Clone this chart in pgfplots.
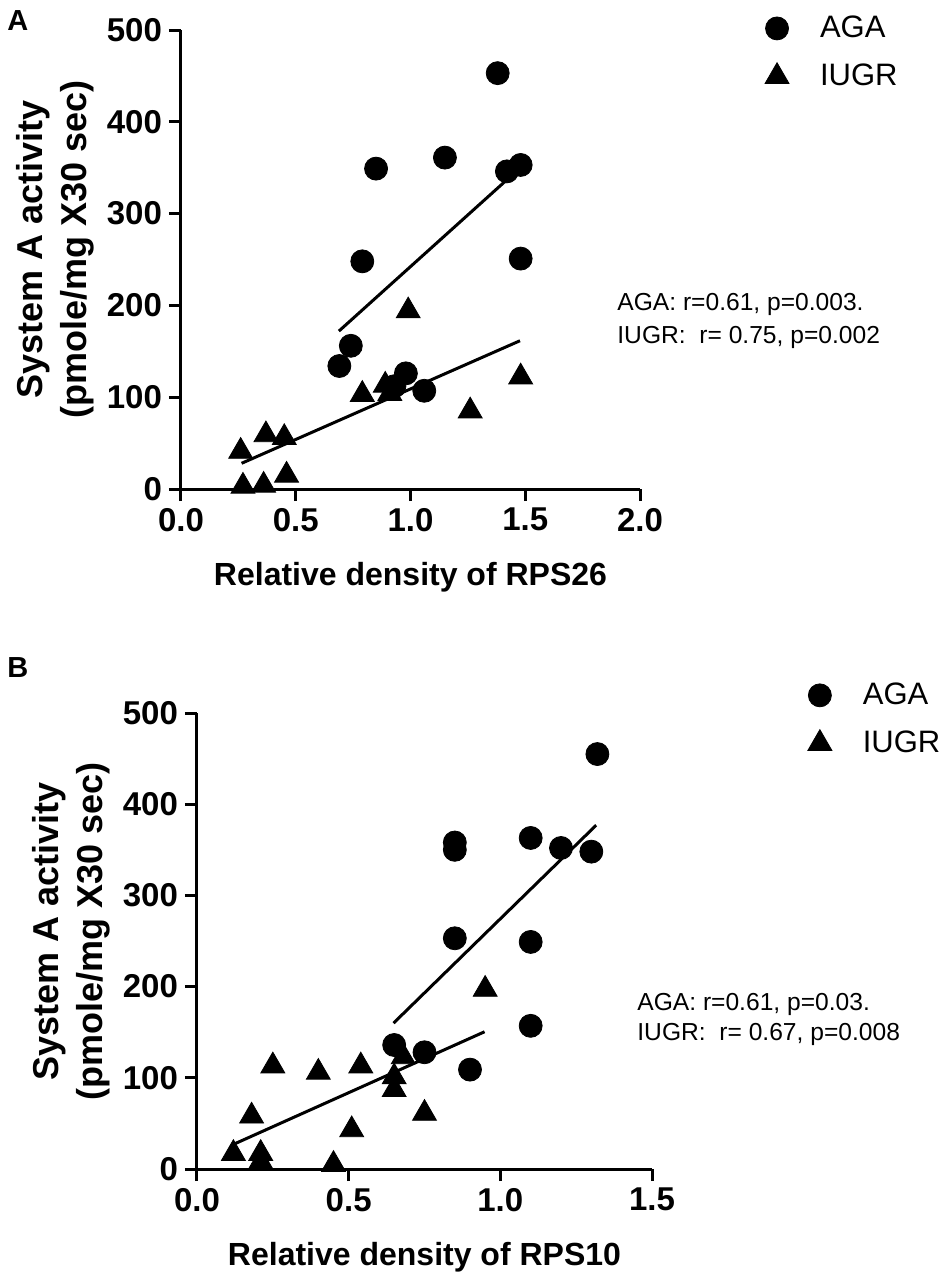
\documentclass[border=0pt]{standalone}
\usepackage{pgfplots}
\pgfplotsset{compat=1.18}
\usepackage{pgfplotstable}
\usepackage{fontspec}
\setmainfont{Liberation Sans}

\pgfplotstableread{
x y
1.38 453
0.85 349
1.15 361
1.42 346
1.48 353
1.48 251
0.79 248
0.74 156
0.69 134
0.98 126
1.06 107
0.93 112
}\agaA
\pgfplotstableread{
x y
0.99 194
0.79 103
0.89 113
0.91 104
1.48 122
1.26 85
0.26 41
0.37 59
0.45 56
0.46 15
0.27 3
0.36 4
}\iugrA
\pgfplotstableread{
x y
1.32 455
0.85 350
0.85 358
1.10 363
1.20 352
1.30 348
0.85 253
1.10 249
1.10 157
0.90 109
0.65 136
0.75 128
}\agaB
\pgfplotstableread{
x y
0.95 197
0.25 113
0.40 106
0.54 113
0.68 123
0.65 101
0.65 87
0.18 58
0.75 61
0.51 43
0.12 17
0.21 17
0.21 8
0.45 5
}\iugrB

\pgfplotsset{
  panel/.style={
    scale only axis,
    axis x line=bottom, axis y line=left,
    axis line style={-, line width=1.5pt, black},
    tick align=outside,
    major tick length=6pt,
    major tick style={line width=1.5pt, black},
    ymin=0, ymax=500, ytick={0,100,...,500},
    xmin=0,
    clip=false,
    /pgf/number format/assume math mode=true,
    ticklabel style={font=\fontsize{16.5}{19}\selectfont\bfseries},
    xticklabel style={/pgf/number format/.cd, fixed, fixed zerofill, precision=1},
    every axis x label/.style={at={(axis description cs:0.5,0)}, anchor=base, yshift=-48pt},
    xlabel style={font=\fontsize{16}{19}\selectfont\bfseries},
    every axis y label/.style={rotate=90, anchor=south, align=center},
    ylabel style={font=\fontsize{18}{22}\selectfont\bfseries, inner sep=0pt},
    legend style={draw=none, fill=none, inner sep=0pt, outer sep=0pt, anchor=west,
      font=\fontsize{15.5}{18}\selectfont, row sep=11pt, column sep=0pt,
      nodes={inner sep=0pt}},
    legend cell align=left,
    legend image code/.code={\path[draw=none, fill=none] (-10pt,-4pt) rectangle (21.5pt,4pt); \draw[##1, mark repeat=1] plot coordinates {(0pt,0pt)};},
  },
  aga/.style={only marks, mark=*, mark size=5.75pt, black, mark options={fill=black}},
  iugr/.style={only marks, mark=triangle*, mark size=6.9pt, black, mark options={fill=black}},
  fit/.style={black, line width=1.5pt, forget plot, no marks},
}

\begin{document}
\begin{tikzpicture}
\path[use as bounding box] (0,0) rectangle (474pt,-643pt);

% Panel A
\begin{axis}[panel,
  at={(90.5pt,-244.5pt)}, anchor=south west,
  width=229.5pt, height=229.5pt,
  xmax=2, xtick={0,0.5,...,2},
  xlabel={Relative density of RPS26},
  ylabel={System A activity\\(pmole/mg X30 sec)},
  ylabel style={at={(axis description cs:-0.188,0.521)}},
  legend style={at={(1.255,0.951)}},
]
\addplot[aga] table {\agaA};
\addlegendentry{AGA}
\addplot[iugr] table {\iugrA};
\addlegendentry{IUGR}
\addplot[fit] coordinates {(0.688,172) (1.434,340)};
\addplot[fit] coordinates {(0.264,28) (1.477,161.5)};
\end{axis}

% Panel B
\begin{axis}[panel,
  at={(98.5pt,-584.5pt)}, anchor=south west,
  width=227.5pt, height=228pt,
  xmax=1.5, xtick={0,0.5,...,1.5},
  xlabel={Relative density of RPS10},
  ylabel={System A activity\\(pmole/mg X30 sec)},
  ylabel style={at={(axis description cs:-0.190,0.521)}},
  legend style={at={(1.325,0.986)}},
]
\addplot[aga] table {\agaB};
\addlegendentry{AGA}
\addplot[iugr] table {\iugrB};
\addlegendentry{IUGR}
\addplot[fit] coordinates {(0.648,160) (1.316,377)};
\addplot[fit] coordinates {(0.120,27) (0.948,150.5)};
\end{axis}

% Panel letters
\node[anchor=base west, inner sep=0pt, font=\fontsize{14.5}{16}\selectfont\bfseries] at (3.5pt,-15pt) {A};
\node[anchor=base west, inner sep=0pt, font=\fontsize{14.5}{16}\selectfont\bfseries] at (3.5pt,-338.5pt) {B};

% Annotations
\node[anchor=base west, inner sep=0pt, font=\fontsize{12.3}{15}\selectfont] at (308.5pt,-155pt) {AGA: r=0.61, p=0.003.};
\node[anchor=base west, inner sep=0pt, font=\fontsize{12.3}{15}\selectfont] at (308.5pt,-171.5pt) {IUGR:\ \ r=~0.75, p=0.002};
\node[anchor=base west, inner sep=0pt, font=\fontsize{12.3}{15}\selectfont] at (318.5pt,-505pt) {AGA: r=0.61, p=0.03.};
\node[anchor=base west, inner sep=0pt, font=\fontsize{12.3}{15}\selectfont] at (318.5pt,-520pt) {IUGR:\ \ r=~0.67, p=0.008};
\end{tikzpicture}
\end{document}
